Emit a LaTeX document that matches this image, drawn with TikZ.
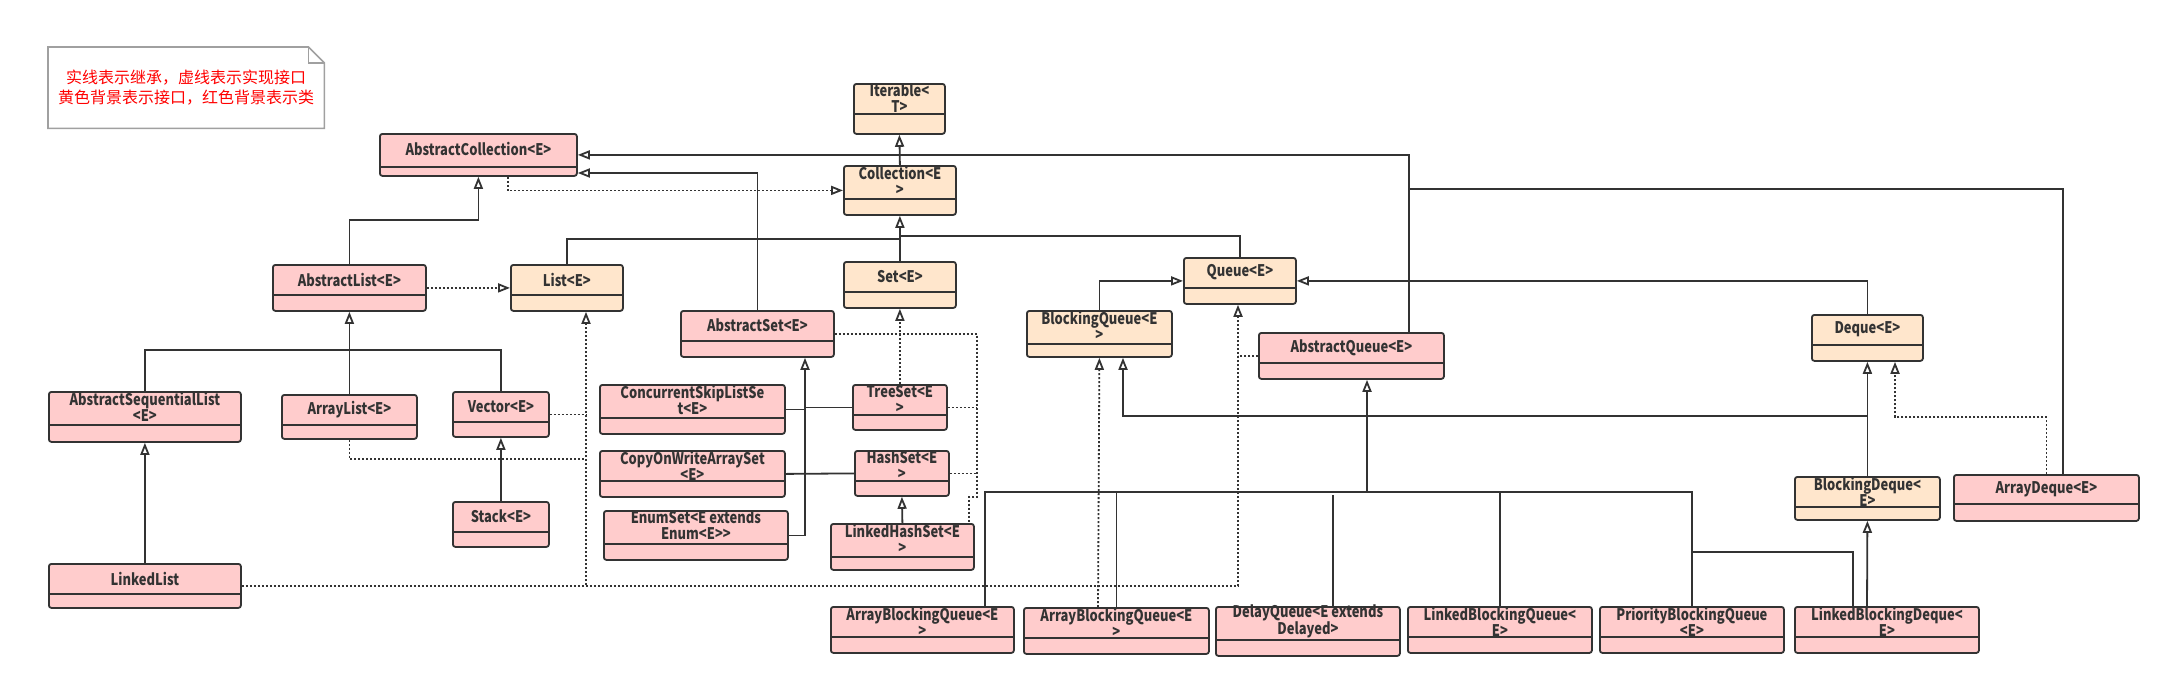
\documentclass[tikz,border=0pt]{standalone}
\usepackage{fontspec}
\usepackage{tikz}
\usetikzlibrary{positioning, arrows, arrows.meta}
\newfontfamily\umlfont{Noto Sans CJK SC}[FakeStretch=0.81]
\newfontfamily\notefont{Noto Sans CJK SC}
\definecolor{linec}{HTML}{333333}
\definecolor{classc}{HTML}{FFCCCC}
\definecolor{ifacec}{HTML}{FFE6CC}
\definecolor{notec}{HTML}{A0A0A0}

\tikzset{
  box/.style={rectangle, rounded corners=2.5pt, draw=linec, line width=1.8pt, inner sep=0pt, anchor=north west},
  cname/.style={anchor=center, yshift=-15.5pt, inner sep=0pt, align=center, text=linec,
    font=\umlfont\bfseries\fontsize{16}{16}\selectfont},
  klass/.style={box, fill=classc, label={[cname]north:{#1}}},
  iface/.style={box, fill=ifacec, label={[cname]north:{#1}}},
  low/.style={path picture={\draw[draw=linec, line width=1.8pt]
    ([yshift=#1]path picture bounding box.south west) -- ([yshift=#1]path picture bounding box.south east);}},
  low/.default=16pt,
  ext/.style={draw=linec, line width=1.8pt, -{Triangle[open, length=12pt, width=9pt]}},
  impl/.style={ext, dash pattern=on 2pt off 2pt},
  branch/.style={draw=linec, line width=1.8pt},
  dotbranch/.style={branch, dash pattern=on 2pt off 2pt},
}

\begin{document}
\begin{tikzpicture}[x=1pt, y=-1pt]

    \fill[white] (0,0) rectangle (2170,686);
    \useasboundingbox (0,0) rectangle (2170,686);

    % 1. Note
    \node (note) [anchor=north west, minimum width=276pt, minimum height=81pt, inner sep=0pt,
      text=red, align=center, font=\notefont\fontsize{16}{20}\selectfont] at (48,47)
      {实线表示继承，虚线表示实现接口\\黄色背景表示接口，红色背景表示类};
    \draw[notec, line width=1.6pt] (note.north west) -- ([xshift=-16pt]note.north east)
      -- ([yshift=-16pt]note.north east) -- (note.south east) -- (note.south west) -- cycle;
    \draw[notec, line width=1.2pt] ([xshift=-16pt]note.north east) |- ([yshift=-16pt]note.north east);

    % 2. Define Nodes
    % interfaces
    \node[iface={Iterable<\\T>}, low=20pt, minimum width=91pt, minimum height=50pt] (iter) at (853,83) {};
    \node[iface={Collection<E\\>}, low, minimum width=112pt, minimum height=49pt] (coll) at (843,165) {};
    \node[iface={List<E>}, low, minimum width=112pt, minimum height=46pt] (list) at (510,264) {};
    \node[iface={Set<E>}, low, minimum width=112pt, minimum height=46pt] (set) at (843,261) {};
    \node[iface={Queue<E>}, low, minimum width=112pt, minimum height=46pt] (queue) at (1183,257) {};
    \node[iface={BlockingQueue<E\\>}, low=13pt, minimum width=145pt, minimum height=46pt] (bqueue) at (1026,310) {};
    \node[iface={Deque<E>}, low, minimum width=111pt, minimum height=46pt] (deque) at (1811,314) {};
    \node[iface={BlockingDeque<\\E>}, low=13pt, minimum width=145pt, minimum height=43pt] (bdeque) at (1794,476) {};

    % abstract classes
    \node[klass={AbstractCollection<E>}, low=9pt, minimum width=197pt, minimum height=42pt] (abscoll) at (379,133) {};
    \node[klass={AbstractList<E>}, low, minimum width=153pt, minimum height=46pt] (abslist) at (272,264) {};
    \node[klass={AbstractSet<E>}, low, minimum width=153pt, minimum height=46pt] (absset) at (680,310) {};
    \node[klass={AbstractQueue<E>}, low, minimum width=185pt, minimum height=46pt] (absqueue) at (1258,332) {};
    \node[klass={AbstractSequentialList\\<E>}, low=17pt, minimum width=192pt, minimum height=50pt] (asl) at (48,391) {};

    % lists
    \node[klass={ArrayList<E>}, low=14pt, minimum width=135pt, minimum height=44pt] (alist) at (281,394) {};
    \node[klass={Vector<E>}, low=15pt, minimum width=96pt, minimum height=45pt] (vector) at (452,391) {};
    \node[klass={Stack<E>}, low=15pt, minimum width=96pt, minimum height=45pt] (stack) at (452,501) {};
    \node[klass={LinkedList}, low=14pt, minimum width=192pt, minimum height=44pt] (llist) at (48,563) {};

    % sets
    \node[klass={ConcurrentSkipListSe\\t<E>}, low, minimum width=185pt, minimum height=49pt] (csls) at (599,384) {};
    \node[klass={CopyOnWriteArraySet\\<E>}, low, minimum width=185pt, minimum height=46pt] (cowas) at (599,450) {};
    \node[klass={EnumSet<E extends\\Enum<E>>}, low, minimum width=184pt, minimum height=49pt] (enumset) at (603,510) {};
    \node[klass={TreeSet<E\\>}, low=15pt, minimum width=94pt, minimum height=45pt] (treeset) at (852,384) {};
    \node[klass={HashSet<E\\>}, low=15pt, minimum width=94pt, minimum height=45pt] (hashset) at (854,450) {};
    \node[klass={LinkedHashSet<E\\>}, low=13pt, minimum width=143pt, minimum height=46pt] (lhset) at (830,523) {};

    % queues
    \node[klass={ArrayBlockingQueue<E\\>}, low, minimum width=183pt, minimum height=46pt] (abq1) at (830,606) {};
    \node[klass={ArrayBlockingQueue<E\\>}, low, minimum width=185pt, minimum height=46pt] (abq2) at (1023,607) {};
    \node[klass={DelayQueue<E extends\\Delayed>}, low, minimum width=184pt, minimum height=49pt] (delayq) at (1215,606) {};
    \node[klass={LinkedBlockingQueue<\\E>}, low, minimum width=184pt, minimum height=46pt] (lbq) at (1407,606) {};
    \node[klass={PriorityBlockingQueue\\<E>}, low, minimum width=184pt, minimum height=46pt] (pbq) at (1599,606) {};
    \node[klass={LinkedBlockingDeque<\\E>}, low, minimum width=184pt, minimum height=46pt] (lbd) at (1794,606) {};
    \node[klass={ArrayDeque<E>}, low=17pt, minimum width=185pt, minimum height=46pt] (adeque) at (1953,474) {};

    % 3. Draw Arrows
    % Collection -> Iterable
    \draw[ext] (coll.north) -- (iter.south);

    % AbstractQueue, ArrayDeque -> AbstractCollection
    \draw[ext] (absqueue.north -| 1409,0) |- (abscoll.east);
    \draw[branch] (adeque.north -| 2063,0) |- (1409,189);

    % AbstractSet -> AbstractCollection
    \draw[ext] (absset.north) |- (abscoll.east |- 0,173);

    % AbstractCollection implements Collection
    \draw[impl] (abscoll.south -| 508,0) |- (coll.west);

    % List, Set, Queue -> Collection
    \draw[branch] (list.north) |- (coll.south |- 0,239);
    \draw[branch] (queue.north) |- (coll.south |- 0,236);
    \draw[ext] (set.north) -- (coll.south);

    % AbstractList -> List (dotted), AbstractCollection
    \draw[impl] (abslist.east) -- (list.west);
    \draw[ext] (abslist.north) |- (abscoll.south |- 0,220) -- (abscoll.south);

    % ArrayList, AbstractSequentialList, Vector -> AbstractList
    \draw[ext] (alist.north) -- (abslist.south);
    \draw[branch] (asl.north) |- (abslist.south |- 0,350) -| (vector.north);
    \draw[ext] (llist.north) -- (asl.south);
    \draw[ext] (stack.north) -- (vector.south);

    % ArrayList, Vector, LinkedList implement List (LinkedList also Queue)
    \draw[impl] (586,585) -- (list.south -| 586,0);
    \draw[dotbranch] (vector.east) -- (vector.east -| 586,0);
    \draw[dotbranch] (alist.south) |- (586,459);
    \draw[impl] (llist.east) -| (queue.south -| 1238,0);

    % AbstractQueue implements Queue
    \draw[dotbranch] (absqueue.west) -- (absqueue.west -| 1238,0);

    % BlockingQueue, Deque -> Queue
    \draw[ext] (bqueue.north) |- (queue.west);
    \draw[ext] (deque.north) |- (queue.east);

    % BlockingDeque -> Deque, BlockingQueue
    \draw[ext] (bdeque.north) -- (deque.south);
    \draw[ext] (deque.south |- 0,416) -| (bqueue.south -| 1123,0);

    % ArrayDeque implements Deque
    \draw[impl] (adeque.north) |- (1895,417) -- (deque.south -| 1895,0);

    % concrete queues -> AbstractQueue
    \draw[ext] (1367,492) -- (absqueue.south -| 1367,0);
    \draw[branch] (abq1.north -| 985,0) |- (pbq.north |- 0,492) -- (pbq.north);
    \draw[branch] (abq2.north) -- (abq2.north |- 0,492);
    \draw[branch] (delayq.north -| 1333,0) -- (1333,495);
    \draw[branch] (lbq.north) -- (lbq.north |- 0,492);
    \draw[branch] (pbq.north |- 0,552) -| (lbd.north -| 1853,0);

    % ArrayBlockingQueue implements BlockingQueue
    \draw[impl] (abq2.north -| 1098,0) -- (bqueue.south);

    % LinkedBlockingDeque -> BlockingDeque
    \draw[ext] (lbd.north -| 1867,0) -- (bdeque.south);

    % sets -> AbstractSet
    \draw[ext] (enumset.east) -| (absset.south -| 805,0);
    \draw[branch] (csls.east) -- (csls.east -| 805,0);
    \draw[branch] (treeset.west) -- (treeset.west -| 805,0);
    \draw[branch] (cowas.east) -- (hashset.west);
    \draw[ext] (lhset.north) -- (hashset.south);

    % sets implement Set
    \draw[impl] (treeset.north) -- (set.south);
    \draw[dotbranch] (absset.east) -| (977,497) -| (lhset.north -| 969,0);
    \draw[dotbranch] (treeset.east) -- (treeset.east -| 977,0);
    \draw[dotbranch] (hashset.east) -- (hashset.east -| 977,0);

\end{tikzpicture}
\end{document}
